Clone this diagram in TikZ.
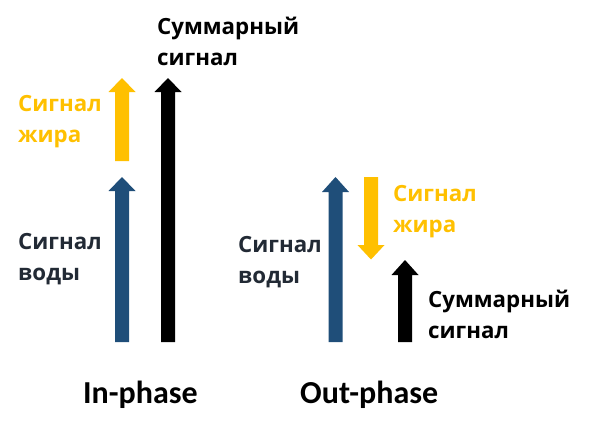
\documentclass[tikz,border=0pt]{standalone}
\usepackage{fontspec}
\newfontfamily\labfont{Open Sans}
\newfontfamily\titlefont{Carlito}
\definecolor{waterblue}{HTML}{1F4E79}
\definecolor{fatyellow}{HTML}{FFC000}
\definecolor{labdark}{HTML}{222A35}
\newcommand\vecup[5]{\fill[#1] ({#2-7},#5) -- ({#2-7},#4) -- ({#2-13.5},#4) -- (#2,#3) -- ({#2+13.5},#4) -- ({#2+7},#4) -- ({#2+7},#5) -- cycle;}
\tikzset{
  lab/.style={anchor=base west, inner sep=0pt, align=left, font=\labfont\bfseries\fontsize{22.3}{30.5}\selectfont},
  ttl/.style={anchor=base west, inner sep=0pt, font=\titlefont\bfseries\fontsize{32}{36}\selectfont}
}
\begin{document}
\begin{tikzpicture}[x=1pt,y=-1pt]
\useasboundingbox (0,0) rectangle (591,431);
% in-phase arrows
\vecup{waterblue}{122}{177}{191}{342}
\vecup{fatyellow}{122}{78}{92}{161}
\vecup{black}{168}{78}{92}{342}
% out-phase arrows
\vecup{waterblue}{335.5}{177}{192}{342}
\fill[fatyellow] (364,177) -- (364,245) -- (357.5,245) -- (371,259.5) -- (384.5,245) -- (378,245) -- (378,177) -- cycle;
\vecup{black}{405}{260}{275}{342}
% labels (anchor = baseline of the last line)
\node[lab, text=black] (sum1) at (157,65) {Суммарный\\сигнал};
\node[lab, text=fatyellow] (fat1) at (18,142) {Сигнал\\жира};
\node[lab, text=labdark] (wat1) at (18,280) {Сигнал\\воды};
\node[lab, text=fatyellow] (fat2) at (393,232) {Сигнал\\жира};
\node[lab, text=labdark] (wat2) at (238,283) {Сигнал\\воды};
\node[lab, text=black] (sum2) at (428,338) {Суммарный\\сигнал};
\node[ttl] (inph) at (83,403) {In-phase};
\node[ttl] (outph) at (300,403) {Out-phase};
\end{tikzpicture}
\end{document}
